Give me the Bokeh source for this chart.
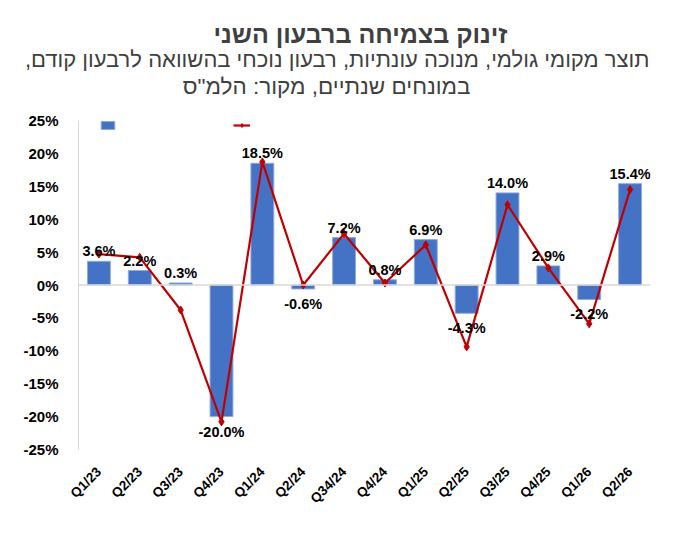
import math
from bokeh.plotting import figure
from bokeh.models import (ColumnDataSource, Span, Legend, LegendItem, Title,
                          NumeralTickFormatter, FixedTicker, Range1d)
from bokeh.embed import file_html
from bokeh.resources import INLINE

quarters = ["Q1/23", "Q2/23", "Q3/23", "Q4/23", "Q1/24", "Q2/24", "Q34/24",
            "Q4/24", "Q1/25", "Q2/25", "Q3/25", "Q4/25", "Q1/26", "Q2/26"]
bar_values = [3.6, 2.2, 0.3, -20.0, 18.5, -0.6, 7.2, 0.8, 6.9, -4.3, 14.0, 2.9, -2.2, 15.4]
line_values = [4.7, 4.2, -3.8, -20.8, 18.7, 0.0, 7.8, 0.3, 6.1, -9.4, 12.2, 2.6, -5.9, 14.5]
y_ticks = [-25, -20, -15, -10, -5, 0, 5, 10, 15, 20, 25]

title_text = "זינוק בצמיחה ברבעון השני"
subtitle_1 = "תוצר מקומי גולמי, מנוכה עונתיות, רבעון נוכחי בהשוואה לרבעון קודם,\u200f"
subtitle_2 = "במונחים שנתיים, מקור: הלמ\"ס"

FONT = "Liberation Sans"
FW, FH = 572, 329

labels = [f"{v:.1f}%" for v in bar_values]
src = ColumnDataSource(dict(q=quarters, v=[v / 100 for v in bar_values],
                            line=[v / 100 for v in line_values]))
pos_src = ColumnDataSource(dict(q=[q for q, v in zip(quarters, bar_values) if v >= 0],
                                v=[v / 100 for v in bar_values if v >= 0],
                                lab=[l for l, v in zip(labels, bar_values) if v >= 0]))
neg_src = ColumnDataSource(dict(q=[q for q, v in zip(quarters, bar_values) if v < 0],
                                v=[v / 100 for v in bar_values if v < 0],
                                lab=[l for l, v in zip(labels, bar_values) if v < 0]))

p = figure(x_range=quarters, y_range=Range1d(-0.25, 0.25),
           frame_width=FW, frame_height=FH,
           output_backend="svg", toolbar_location=None,
           min_border_left=78, min_border_right=14, min_border_top=0, min_border_bottom=68)
p.outline_line_color = None
p.xgrid.grid_line_color = None
p.ygrid.grid_line_color = None

# title block: panels stack outward from the frame; right-aligned (RTL text)
def add_title(text, size, style, standoff, offset):
    p.add_layout(Title(text=text, align="right", offset=offset, text_font=FONT,
                       text_font_size=size, text_font_style=style,
                       text_color="#404040", standoff=standoff), "above")

add_title(" ", "1px", "normal", 17.9, 0)          # gap between subtitle and plot
add_title(subtitle_2, "22.5px", "normal", 0.9, 180)
add_title(subtitle_1, "22px", "normal", -0.6, 1)
add_title(title_text, "25px", "bold", -4.95, 143)
add_title(" ", "1px", "normal", 16.95, 0)         # top margin

zero = Span(location=0, dimension="width", line_color="#D9D9D9", line_width=1.5)
p.add_layout(zero)

bars = p.vbar(x="q", top="v", bottom=0, width=0.56, source=src,
              fill_color="#4472C4", line_color="#8FAADC", line_width=1)
ln = p.line(x="q", y="line", source=src, line_color="#C00000", line_width=2.2)
mk = p.scatter(x="q", y="line", source=src, marker="diamond", size=8,
               fill_color="#C00000", line_color="#C00000")

p.text(x="q", y="v", text="lab", source=pos_src, text_align="center",
       text_baseline="bottom", y_offset=-2, text_font_size="14.5px",
       text_font_style="bold", text_color="black", text_font={"value": FONT})
p.text(x="q", y="v", text="lab", source=neg_src, text_align="center",
       text_baseline="top", y_offset=7, text_font_size="14.5px",
       text_font_style="bold", text_color="black", text_font={"value": FONT})

p.yaxis.ticker = FixedTicker(ticks=[t / 100 for t in y_ticks])
p.yaxis.formatter = NumeralTickFormatter(format="0%")
p.yaxis.axis_line_color = "#D9D9D9"
p.yaxis.major_tick_line_color = None
p.yaxis.minor_tick_line_color = None
p.yaxis.major_label_text_font = FONT
p.yaxis.major_label_text_font_size = "15px"
p.yaxis.major_label_text_font_style = "bold"
p.yaxis.major_label_text_color = "black"
p.yaxis.major_label_standoff = 14

p.xaxis.axis_line_color = None
p.xaxis.major_tick_line_color = None
p.xaxis.minor_tick_line_color = None
p.xaxis.major_label_orientation = math.pi / 4
p.xaxis.major_label_text_font = FONT
p.xaxis.major_label_text_font_size = "13.5px"
p.xaxis.major_label_text_font_style = "bold"
p.xaxis.major_label_text_color = "black"
p.xaxis.major_label_standoff = 14

legend = Legend(items=[LegendItem(label=" ", renderers=[bars]),
                       LegendItem(label=" ", renderers=[ln, mk])],
                orientation="horizontal", location=(21, FH - 10),
                glyph_width=17, glyph_height=10, label_width=0, label_standoff=0,
                spacing=117, padding=0, margin=0, border_line_color=None,
                background_fill_alpha=0, label_text_font_size="1px")
p.add_layout(legend)

open("out.html", "w").write(file_html(p, INLINE))
